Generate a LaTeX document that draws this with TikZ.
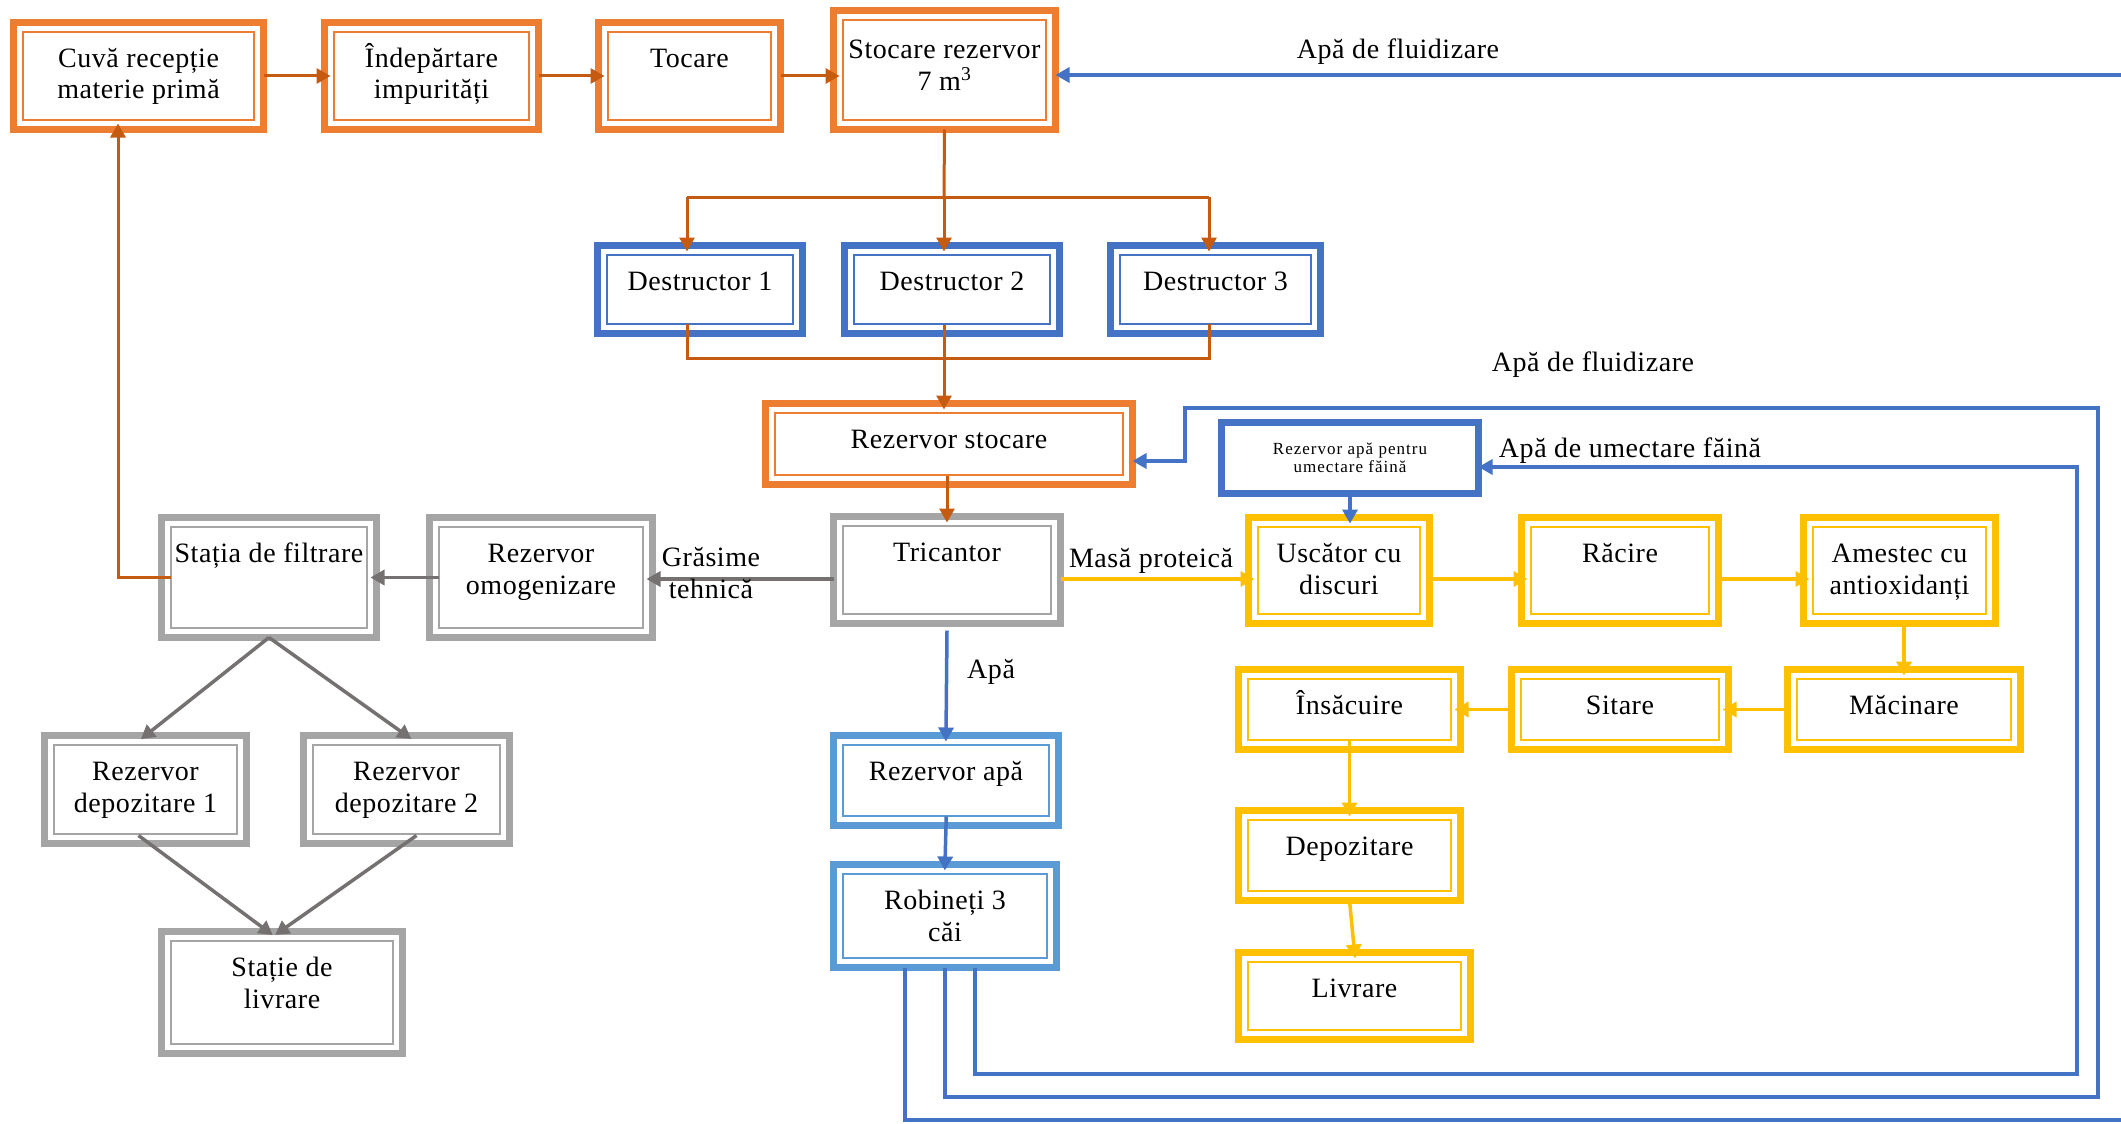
\documentclass[tikz,border=0pt]{standalone}
\usepackage{fontspec}
\setmainfont{Liberation Serif}[LetterSpace=2]
\newfontfamily\spacedserif{Liberation Serif}[LetterSpace=6]
\usetikzlibrary{arrows.meta}

\definecolor{orbox}{HTML}{ED7D31}
\definecolor{orline}{HTML}{C55A11}
\definecolor{bluebox}{HTML}{4472C4}
\definecolor{ltblue}{HTML}{5B9BD5}
\definecolor{graybox}{HTML}{A5A5A5}
\definecolor{grayline}{HTML}{767171}
\definecolor{yel}{HTML}{FFC000}

% box given by its outer edges: name, style, x0, y0, x1, y1
\newcommand\procbox[6]{%
  \node[#2, minimum width={#5-#3-7}, minimum height={#6-#4-7}] (#1) at ({(#3+#5)/2},{(#4+#6)/2}) {};}
% one-line caption near the top of a box
\newcommand\boxtext[2]{\node[txt] (#1-t) at ([yshift=-44.5pt]#1.north) {#2};}
% two-line caption (anchored on the baseline of its last line)
\newcommand\boxtextii[2]{\node[txt] (#1-t) at ([yshift=-76.5pt]#1.north) {#2};}

\begin{document}
\begin{tikzpicture}[x=1pt, y=-1pt,
  boxbase/.style={draw=#1, line width=7pt, fill=white, inner sep=0pt, outer sep=0pt},
  framed/.style={boxbase=#1, path picture={\draw[draw=#1, line width=1.2pt]
      ([shift={(9.5pt,-9.5pt)}]path picture bounding box.north west) rectangle
      ([shift={(-9.5pt,9.5pt)}]path picture bounding box.south east);}},
  txt/.style={font=\fontsize{28}{32}\selectfont, align=center, anchor=base, inner sep=0pt},
  tip/.style={-{Triangle[length=14pt,width=15pt]}},
  into/.style={shorten >=-6pt},
  outof/.style={shorten <=-9pt},
  oline/.style={draw=orline, line width=3pt},
  bline/.style={draw=bluebox, line width=3.5pt},
  gline/.style={draw=grayline, line width=3.5pt},
  yline/.style={draw=yel, line width=3.5pt},
]
\useasboundingbox (0,0) rectangle (2121,1124);

% ---------- raw material line ----------
\procbox{cuva}{framed=orbox}{10}{19}{267}{133}
\procbox{indep}{framed=orbox}{321}{19}{542}{133}
\procbox{tocare}{framed=orbox}{595}{19}{784}{133}
\procbox{stocare}{framed=orbox}{830}{7}{1059}{133}
\boxtextii{cuva}{Cuvă recepție\\materie primă}
\boxtextii{indep}{Îndepărtare\\impurități}
\boxtext{tocare}{Tocare}
\node[txt] (stocare-t) at ([yshift=-79.5pt]stocare.north) {Stocare rezervor\\7 m\textsuperscript{3}};

% ---------- destructors ----------
\procbox{d1}{framed=bluebox}{594}{242}{806}{337}
\procbox{d2}{framed=bluebox}{841}{242}{1063}{337}
\procbox{d3}{framed=bluebox}{1107}{242}{1324}{337}
\boxtext{d1}{Destructor 1}
\boxtext{d2}{Destructor 2}
\boxtext{d3}{Destructor 3}

\procbox{rstoc}{framed=orbox}{762}{400}{1136}{488}
\boxtext{rstoc}{Rezervor stocare}

% ---------- separation and fat line ----------
\procbox{tric}{framed=graybox}{830}{513}{1064}{627}
\procbox{omog}{framed=graybox}{426}{514}{656}{641}
\procbox{stat}{framed=graybox}{158}{514}{380}{641}
\procbox{dep1}{framed=graybox}{41}{732}{250}{847}
\procbox{dep2}{framed=graybox}{300}{732}{513}{847}
\procbox{livst}{framed=graybox}{158}{928}{406}{1057}
\boxtext{tric}{Tricantor}
\boxtextii{omog}{Rezervor\\omogenizare}
\boxtext{stat}{Stația de filtrare}
\boxtextii{dep1}{Rezervor\\depozitare 1}
\boxtextii{dep2}{Rezervor\\depozitare 2}
\boxtextii{livst}{Stație de\\livrare}

% ---------- water line ----------
\procbox{rapa}{framed=ltblue}{830}{732}{1062}{829}
\procbox{rob}{framed=ltblue}{830}{861}{1060}{971}
\boxtext{rapa}{Rezervor apă}
\boxtextii{rob}{Robineți 3\\căi}
\procbox{rum}{boxbase=bluebox}{1218}{419}{1482}{497}
\node[font=\spacedserif\fontsize{17}{18}\selectfont, align=center, inner sep=0pt] (rum-t) at (rum) {Rezervor apă pentru\\umectare făină};

% ---------- protein meal line ----------
\procbox{usc}{framed=yel}{1245}{514}{1433}{627}
\procbox{racire}{framed=yel}{1518}{514}{1722}{627}
\procbox{amestec}{framed=yel}{1800}{514}{1999}{627}
\procbox{insac}{framed=yel}{1235}{666}{1464}{753}
\procbox{sitare}{framed=yel}{1508}{666}{1732}{753}
\procbox{macin}{framed=yel}{1784}{666}{2024}{753}
\procbox{depoz}{framed=yel}{1235}{807}{1464}{904}
\procbox{livr}{framed=yel}{1235}{949}{1474}{1043}
\boxtextii{usc}{Uscător cu\\discuri}
\boxtext{racire}{Răcire}
\boxtextii{amestec}{Amestec cu\\antioxidanți}
\boxtext{insac}{Însăcuire}
\boxtext{sitare}{Sitare}
\boxtext{macin}{Măcinare}
\boxtext{depoz}{Depozitare}
\boxtext{livr}{Livrare}

% ---------- connectors: raw material ----------
\draw[oline, tip, into] (cuva.east) -- (indep.west);
\draw[oline, tip, into] (indep.east) -- (tocare.west);
\draw[oline, tip, into] (tocare.east) -- (tocare.east -| stocare.west);

\coordinate (split) at (944,197);
\coordinate (s1) at (687,197);
\coordinate (s3) at (1209,197);
\coordinate (m1) at (687,358);
\coordinate (m3) at (1209,358);
\draw[oline] (stocare.south) -- (split);
\draw[oline] (s1) -- (s3);
\draw[oline, tip, into] (s1) -- (s1 |- d1.north);
\draw[oline, tip, into] (split) -- (split |- d2.north);
\draw[oline, tip, into] (s3) -- (s3 |- d3.north);
\draw[oline] ([yshift=10pt]m1 |- d1.south) -- (m1) -- (m3) -- ([yshift=10pt]m3 |- d3.south);
\draw[oline, tip, into, outof] (split |- d2.south) -- (split |- rstoc.north);
\draw[oline, tip, into, outof] (rstoc.south -| tric.north) -- (tric.north);

% ---------- connectors: fat and recycling ----------
\draw[gline, tip, into] ([yshift=-9pt]tric.west) -- ([yshift=-1.5pt]omog.east);
\draw[gline, tip, into, outof] (omog.west) -- (stat.east);
\draw[oline, tip, into, outof] (stat.west) -| ([xshift=-20.5pt]cuva.south);
\draw[gline, tip, into] (stat.south) -- (dep1.north);
\draw[gline, tip, into] (stat.south) -- (dep2.north);
\draw[gline, tip, into] ([xshift=-7pt,yshift=8pt]dep1.south) -- ([xshift=-14pt]livst.north);
\draw[gline, tip, into] ([xshift=10pt,yshift=8pt]dep2.south) -- ([xshift=-2pt]livst.north);

% ---------- connectors: water ----------
\draw[bline, tip, into] ([yshift=-7pt]tric.south) -- (rapa.north);
\draw[bline, tip, into, outof] (rapa.south) -- (rob.north);
\draw[bline, tip, into] (rum.south) -- (rum.south |- usc.north);

\begin{scope}
  \clip (0,0) rectangle (2121,1124);
  \coordinate (loopA) at (2140,1120);
  \draw[bline, tip] ([xshift=-40pt]rob.south) |- (loopA) |- ([yshift=-5pt]stocare.east);
\end{scope}
\coordinate (loopB) at (2098,1097);
\coordinate (loopB2) at (1185,408);
\draw[bline, tip] (rob.south) |- (loopB) |- (loopB2) |- ([yshift=-17pt]rstoc.east);
\coordinate (loopC) at (2077,1074);
\draw[bline, tip] ([xshift=30pt]rob.south) |- (loopC) |- ([yshift=-9pt]rum.east);

% ---------- connectors: protein meal ----------
\draw[yline, tip, into] ([yshift=-9pt]tric.east) -- ([yshift=-8.5pt]usc.west);
\draw[yline, tip, into] ([yshift=-8.5pt]usc.east) -- ([yshift=-8.5pt]racire.west);
\draw[yline, tip, into] ([yshift=-8.5pt]racire.east) -- ([yshift=-8.5pt]amestec.west);
\draw[yline, tip, into] (amestec.south -| macin.north) -- (macin.north);
\draw[yline, tip, into] (macin.west) -- (sitare.east);
\draw[yline, tip, into] (sitare.west) -- (insac.east);
\draw[yline, tip, into, outof] (insac.south) -- (depoz.north);
\draw[yline, tip, into] (depoz.south) -- (livr.north);

% ---------- stream labels ----------
\node[txt] (fluid1) at (1398,59) {Apă de fluidizare};
\node[txt] (fluid2) at (1593,371) {Apă de fluidizare};
\node[txt] (umect) at (1630,457) {Apă de umectare făină};
\node[txt] (masa) at (1151,567) {Masă proteică};
\node[txt] (grasime) at (711,598) {Grăsime\\tehnică};
\node[txt, anchor=base west] (apa) at (967,678) {Apă};
\end{tikzpicture}
\end{document}
